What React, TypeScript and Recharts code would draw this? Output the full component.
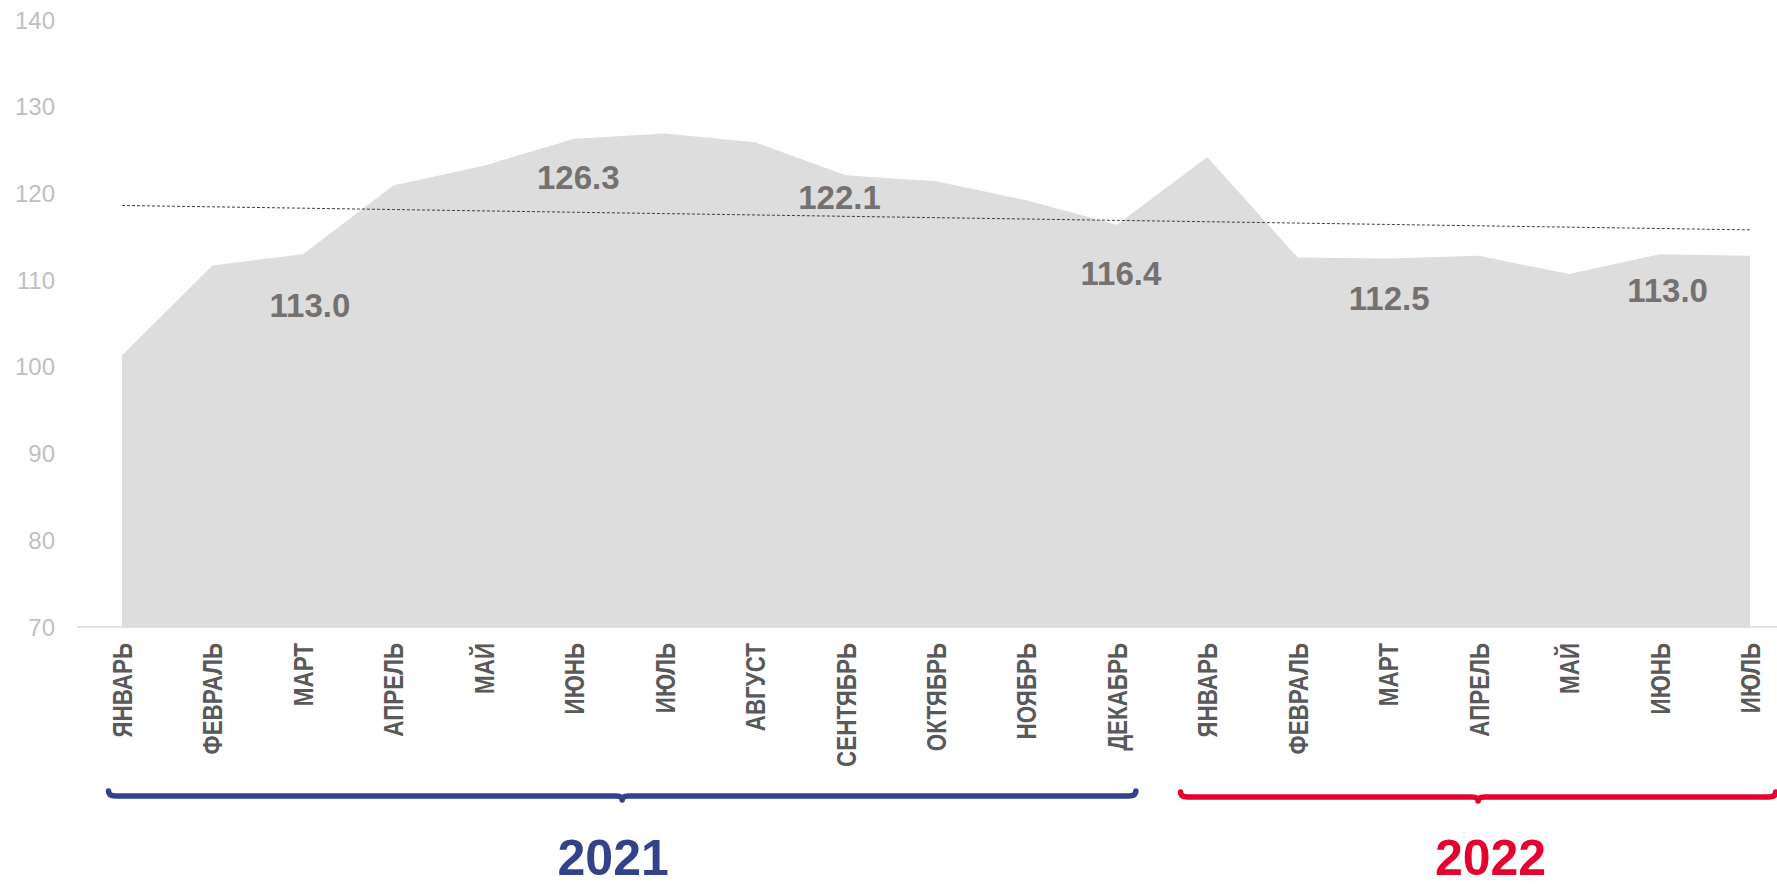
import React from 'react';
import { ComposedChart, Area, Line, XAxis, YAxis, LabelList } from 'recharts';

const months = ['ЯНВАРЬ','ФЕВРАЛЬ','МАРТ','АПРЕЛЬ','МАЙ','ИЮНЬ','ИЮЛЬ','АВГУСТ','СЕНТЯБРЬ','ОКТЯБРЬ','НОЯБРЬ','ДЕКАБРЬ','ЯНВАРЬ','ФЕВРАЛЬ','МАРТ','АПРЕЛЬ','МАЙ','ИЮНЬ','ИЮЛЬ'];
const values = [101.3,111.7,113.0,120.9,123.2,126.3,126.9,125.9,122.1,121.4,119.2,116.4,124.2,112.6,112.5,112.8,110.7,113.0,112.8];
const labeledIdx = [2,5,8,11,14,17];
const yTicks = [70,80,90,100,110,120,130,140];
const years = [
  { label: '2021', first: 0, last: 11 },
  { label: '2022', first: 12, last: 18 },
];

// linear trend (least squares) of the series, like the spreadsheet trendline
const n = values.length;
const meanI = (n - 1) / 2;
const meanV = values.reduce((a, b) => a + b, 0) / n;
let sxy = 0, sxx = 0;
values.forEach((v, i) => { sxy += (i - meanI) * (v - meanV); sxx += (i - meanI) * (i - meanI); });
const slope = sxy / sxx;

const data = months.map((m, i) => ({
  id: i,
  month: m,
  v: values[i],
  trend: meanV + slope * (i - meanI),
}));

const W = 1777;
const H = 886;
const Y_AXIS_W = 77;
const PAD_L = 45;
const PAD_R = 27;
const STEP = (W - Y_AXIS_W - PAD_L - PAD_R) / (n - 1);

const SANS = "'Liberation Sans', Arial, sans-serif";

const labelOffsets: Record<number, [number, number]> = {
  2: [7, 51], 5: [4, 38], 8: [-6, 22], 11: [4, 48], 14: [1, 40], 17: [8, 36],
};

const renderValueLabel = (props: any) => {
  const { x, y, value, index } = props;
  if (!labeledIdx.includes(index)) return null;
  const [dx, dy] = labelOffsets[index] || [0, 40];
  return (
    <text x={x + dx} y={y + dy + 12} textAnchor="middle" fontFamily={SANS} fontWeight="bold" fontSize={33} fill="#767171">
      {Number(value).toFixed(1)}
    </text>
  );
};

const braceStyle: Record<string, { dl: number; dr: number; dy: number; color: string; textDx: number; textDy: number }> = {
  '2021': { dl: -13.5, dr: 19, dy: 169, color: '#33428A', textDx: -9, textDy: 248 },
  '2022': { dl: -26.8, dr: 25.6, dy: 170, color: '#E4032E', textDx: 12.5, textDy: 248 },
};

const Brace = ({ x0, y0, span, year }: { x0: number; y0: number; span: number; year: string }) => {
  const s = braceStyle[year];
  const left = x0 + s.dl;
  const right = x0 + span * STEP + s.dr;
  const mid = (left + right) / 2;
  const ly = y0 + s.dy;
  const d = `M ${left} ${ly - 5} Q ${left} ${ly} ${left + 7} ${ly} L ${mid - 6} ${ly} Q ${mid} ${ly} ${mid} ${ly + 4} Q ${mid} ${ly} ${mid + 6} ${ly} L ${right - 7} ${ly} Q ${right} ${ly} ${right} ${ly - 5}`;
  return (
    <g>
      <path d={d} fill="none" stroke={s.color} strokeWidth={5.5} strokeLinecap="round" strokeLinejoin="round" />
      <text x={mid + s.textDx} y={y0 + s.textDy} textAnchor="middle" fontFamily={SANS} fontWeight="bold" fontSize={50} fill={s.color}>
        {year}
      </text>
    </g>
  );
};

const XTick = (props: any) => {
  const { x, y, payload } = props;
  const idx = props.index ?? payload.index;
  const yr = years.find((g) => g.first === idx);
  return (
    <g>
      <text
        transform={`translate(${x + 10},${y + 16}) rotate(-90) scale(0.8,1)`}
        textAnchor="end"
        fontFamily={SANS}
        fontWeight="bold"
        fontSize={28}
        fill="#595959"
      >
        {payload.value}
      </text>
      {yr && <Brace x0={x} y0={y} span={yr.last - yr.first} year={yr.label} />}
    </g>
  );
};

export default function App() {
  return (
    <div style={{ position: 'absolute', left: 0, top: 0, width: W, height: H, background: '#fff' }}>
      <ComposedChart width={W} height={H} data={data} margin={{ top: 20, right: 0, bottom: 0, left: 0 }}>
        <XAxis
          dataKey="month"
          interval={0}
          height={259}
          padding={{ left: PAD_L, right: PAD_R }}
          tickLine={false}
          tickSize={0}
          tickMargin={0}
          axisLine={{ stroke: '#D9D9D9', strokeWidth: 1.5 }}
          tick={<XTick />}
        />
        <YAxis
          width={Y_AXIS_W}
          domain={[70, 140]}
          ticks={yTicks}
          interval={0}
          axisLine={false}
          tickLine={false}
          tickSize={0}
          tickMargin={22}
          tick={{ fill: '#BFBFBF', fontSize: 24, fontFamily: SANS }}
        />
        <Area
          type="linear"
          dataKey="v"
          fill="#DDDDDD"
          fillOpacity={1}
          stroke="none"
          isAnimationActive={false}
          dot={false}
          activeDot={false}
        >
          <LabelList dataKey="v" content={renderValueLabel} />
        </Area>
        <Line
          type="linear"
          dataKey="trend"
          stroke="#404040"
          strokeWidth={1}
          strokeDasharray="3 2"
          dot={false}
          activeDot={false}
          isAnimationActive={false}
        />
      </ComposedChart>
    </div>
  );
}
